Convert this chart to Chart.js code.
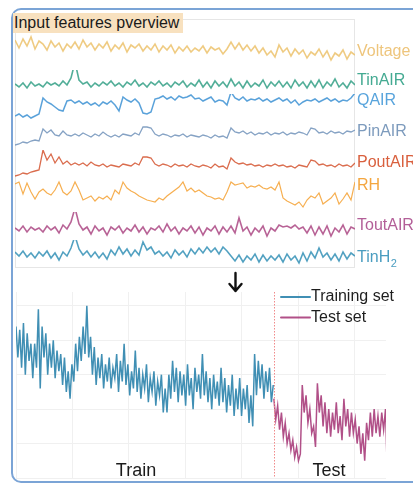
<!DOCTYPE html>
<html>
<head>
<meta charset="utf-8">
<script src="https://cdn.jsdelivr.net/npm/chart.js@4/dist/chart.umd.min.js"></script>
<style>
  html, body { margin: 0; padding: 0; background: #fff; }
  #wrap { position: relative; width: 413px; height: 485px; overflow: hidden; font-family: "Liberation Sans", Arial, sans-serif; }
  #frame { position: absolute; left: 11px; top: 8px; width: 430px; height: 475px; border: 2px solid #7ba4d6; border-radius: 10px; box-sizing: border-box; }
  #topChart { position: absolute; left: 0; top: 0; }
  #bottomChart { position: absolute; left: 0; top: 268px; }
  #title { position: absolute; left: 13px; top: 13px; height: 20px; line-height: 20px; padding: 0 4px 0 1px; background: #f8e1bf; font-size: 16px; color: #1a1a1a; white-space: nowrap; }
</style>
</head>
<body>
<div id="wrap">
  <div id="frame"></div>
  <canvas id="topChart" width="413" height="270"></canvas>
  <canvas id="bottomChart" width="413" height="217"></canvas>
  <div id="title">Input features pverview</div>
</div>
<script>
// ---- input features (relative units, each feature on its own band) ----
const featureNames = ['Voltage', 'TinAIR', 'QAIR', 'PinAIR', 'PoutAIR', 'RH', 'ToutAIR', 'TinH'];

const voltage = [30,22,31,24,33,21,29,
  26,20,29,23,27,19,26,22,28,
  21,30,23,27,20,26,22,28,19,25,
  21,27,18,25,22,26,19,24,20,26,
  18,24,20,25,17,23,19,24,18,22,
  19,24,17,23,20,22,16,21,
  28,21,27,20,25,19,24,17,22,15,19,13,
  25,18,22,14,21,16,20,12,18,15,
  21,13,19,10,17,14,20,11,18,15];

const tinAir = [10,7,11,6,12,8,10,
  7,12,9,11,8,13,9,16,32,
  14,10,12,7,11,8,12,9,13,8,
  11,7,12,9,14,8,11,7,12,9,
  13,8,11,7,12,9,13,7,11,8,
  14,7,12,6,13,8,12,7,
  15,8,12,6,13,7,11,8,14,6,12,8,
  13,7,12,6,14,8,12,6,13,7,
  14,6,12,8,15,7,11,6,13,9];

const qAir = [6,8,5,7,4,6,8,
  24,20,18,15,12,11,21,22,19,
  21,18,20,17,19,16,20,18,21,17,
  11,25,22,20,23,19,9,8,10,23,
  24,26,23,25,22,26,24,25,27,23,
  24,21,23,25,20,22,21,17,
  30,24,22,25,21,23,22,24,21,23,20,22,
  24,21,23,19,22,17,20,22,21,23,
  20,22,24,21,23,20,22,21,24,29];

const pinAir = [5,6,8,7,9,10,9,
  21,17,20,15,14,19,15,14,16,
  14,17,15,13,16,14,18,15,13,15,
  13,16,15,14,17,15,23,23,22,16,
  14,16,15,13,15,14,16,13,15,14,
  13,15,14,12,15,13,14,12,
  22,18,17,19,16,18,15,17,16,18,15,17,
  16,18,15,17,16,18,17,15,22,21,
  17,18,16,19,17,18,16,19,18,20];

const poutAir = [2,3,5,4,6,7,8,
  28,18,24,15,21,14,17,13,15,
  13,15,12,16,13,12,14,11,13,12,
  11,14,13,12,15,13,21,21,20,14,
  12,14,13,11,14,12,13,11,14,12,
  11,13,12,10,14,11,12,9,
  20,16,14,15,13,14,12,13,11,13,12,14,
  12,13,11,12,10,13,12,11,18,17,
  13,14,12,13,11,14,12,13,11,15];

const rh = [28,30,18,29,20,13,20,
  23,19,17,22,30,20,17,21,30,
  22,12,14,16,11,15,13,16,12,22,
  18,30,24,21,19,16,14,12,11,10,
  14,12,16,19,22,25,30,21,24,20,
  22,19,16,15,13,14,12,20,
  30,27,28,29,24,26,25,27,24,23,25,22,
  30,14,11,9,7,10,5,12,16,14,
  19,8,11,14,19,8,13,19,12,30];

const toutAir = [12,9,14,8,13,10,12,
  8,14,10,13,7,15,11,18,32,
  16,10,13,6,14,9,12,5,13,10,
  14,7,12,9,15,8,13,6,12,10,
  14,8,16,9,13,6,12,9,14,7,
  13,5,12,9,14,6,13,8,
  14,7,22,9,13,5,12,8,14,4,12,9,
  15,13,14,12,15,11,13,7,14,5,
  13,6,14,4,12,8,15,6,13,11];

const tinH2 = [16,12,17,11,15,10,16,
  12,17,10,15,8,16,12,20,32,
  19,13,17,11,16,10,15,9,18,13,
  21,14,19,12,18,13,26,18,21,14,
  17,12,16,10,18,13,17,11,19,14,
  20,15,21,16,20,14,21,17,
  12,7,13,6,12,8,14,6,13,7,12,8,
  13,6,14,8,12,5,15,7,16,10,
  20,11,15,8,14,7,16,9,15,12];

const featureValues = [voltage, tinAir, qAir, pinAir, poutAir, rh, toutAir, tinH2];

// ---- target series: training and test split ----
const trainValues = [4.4,3.5,4.3,3.2,4.5,3.0,4.2,3.4,3.9,2.9,
  3.9,3.2,4.9,2.6,4.4,3.5,4.2,3.0,3.9,3.2,
  4.0,2.9,3.7,3.1,3.6,2.7,3.5,2.5,3.1,2.3,
  3.3,2.8,3.9,3.1,4.1,3.4,4.4,3.6,5.0,3.5,
  4.1,3.0,3.8,2.7,3.5,2.9,3.6,2.6,3.3,2.8,
  3.5,2.6,3.2,2.9,3.6,2.5,3.4,2.8,3.9,2.7,
  3.3,2.4,3.1,2.6,3.7,2.5,3.2,2.3,3.0,2.6,
  3.3,2.2,2.9,2.5,3.1,2.1,2.8,2.4,3.0,1.9,
  2.6,1.9,3.0,2.3,3.4,2.5,3.2,2.2,3.1,2.4,
  3.0,2.1,3.3,2.4,2.9,2.0,3.2,2.5,3.0,2.3,
  3.6,2.4,3.1,2.2,2.9,2.0,3.0,2.3,2.8,2.1,
  3.2,2.2,2.9,1.9,2.7,2.1,3.0,1.8,2.6,2.0,
  2.9,1.8,2.6,2.0,2.7,1.6,2.4,1.5,3.6,2.4,
  3.4,2.6,3.3,2.3,3.1,2.5,3.2,2.2,2.7];

const testValues = [2.3,1.7,2.1,1.4,1.9,1.2,1.6,1.0,1.3,0.8,1.1,0.6,0.9,0.5,0.7,
  2.7,1.9,2.4,1.6,2.0,1.3,1.5,0.9,
  2.75,1.9,2.4,1.5,2.2,1.3,2.0,1.2,1.9,1.4,2.2,1.3,1.8,1.1,2.3,1.5,2.0,1.2,1.9,1.3,
  1.7,1.0,1.5,0.7,1.3,0.5,1.6,1.1,1.9,1.2,2.0,1.3,1.8,1.2,1.9,1.4,2.0,0.05];

const trainStep = 6.6;     // samples between stored training points
const testStart = 913;     // first sample of the test period
const testStep = 6.7;
const sampleMax = 1310;
const phaseNames = ['Train', 'Test'];
const phaseCentres = [425, 1108];

// ---- styling ----
const FONT = '"Liberation Sans", Arial, sans-serif';
const featureStyle = [
  { line: 'rgba(236,194,108,0.85)', text: '#eec57c', band: 51, labelDy: -3, width: 1.6 },
  { line: 'rgba(52,160,134,0.85)',  text: '#44aa92', band: 24, labelDy: -4, width: 1.6 },
  { line: 'rgba(72,152,214,0.9)',   text: '#58a4dc', band: 28, labelDy: 8,  width: 1.5 },
  { line: 'rgba(120,152,190,0.9)',  text: '#7d9bbd', band: 28, labelDy: 2,  width: 1.3 },
  { line: 'rgba(214,92,58,0.9)',    text: '#d9603e', band: 28, labelDy: 0,  width: 1.3 },
  { line: 'rgba(245,166,62,0.9)',   text: '#f4a63f', band: 34, labelDy: 4,  width: 1.2 },
  { line: 'rgba(172,72,132,0.85)',  text: '#b35f98', band: 28, labelDy: -3, width: 1.6 },
  { line: 'rgba(52,144,182,0.85)',  text: '#4a9dc0', band: 28, labelDy: 2,  width: 1.6, sub: '2' }
];

// ---- top chart: stacked feature bands ----
// Stacked left axes are laid out from the last-registered one downward,
// so the bands are registered bottom-up to keep Voltage on top.
const topScales = {
  x: { type: 'linear', display: false, min: 0, max: voltage.length - 1 }
};
for (let i = featureNames.length - 1; i >= 0; i--) {
  topScales['f' + i] = {
    type: 'linear', display: false, stack: 'features', stackWeight: featureStyle[i].band,
    min: 0, max: featureStyle[i].band
  };
}

const featureLabels = {
  id: 'featureLabels',
  beforeDatasetsDraw(chart) {
    const { ctx, chartArea: a } = chart;
    ctx.save();
    ctx.strokeStyle = '#e6e6e6';
    ctx.lineWidth = 1;
    ctx.strokeRect(a.left + 0.5, a.top + 0.5, a.width - 1, a.height - 1);
    ctx.restore();
  },
  afterDatasetsDraw(chart) {
    const { ctx, chartArea: a } = chart;
    ctx.save();
    ctx.textBaseline = 'middle';
    chart.data.datasets.forEach((ds, i) => {
      const st = featureStyle[i];
      const scale = chart.scales[ds.yAxisID];
      const y = scale.getPixelForValue(ds.data[ds.data.length - 1]) + st.labelDy;
      const x = a.right + 2;
      ctx.font = '16px ' + FONT;
      ctx.fillStyle = st.text;
      ctx.fillText(ds.label, x, y);
      if (st.sub) {
        const w = ctx.measureText(ds.label).width;
        ctx.font = '11px ' + FONT;
        ctx.fillText(st.sub, x + w + 0.5, y + 6);
      }
    });
    ctx.restore();
  }
};

new Chart(document.getElementById('topChart'), {
  type: 'line',
  data: {
    labels: voltage.map((_, i) => i),
    datasets: featureNames.map((name, i) => ({
      label: name,
      data: featureValues[i],
      yAxisID: 'f' + i,
      borderColor: featureStyle[i].line,
      borderWidth: featureStyle[i].width,
      pointRadius: 0,
      tension: 0
    }))
  },
  options: {
    responsive: false,
    animation: false,
    events: [],
    layout: { padding: { left: 15, top: 19, right: 58, bottom: 2 } },
    scales: topScales,
    plugins: { legend: { display: false }, tooltip: { enabled: false } }
  },
  plugins: [featureLabels]
});

// ---- bottom chart: train / test split ----
const trainColor = 'rgba(38,128,170,0.88)';
const testColor = 'rgba(166,56,120,0.88)';

const splitDecor = {
  id: 'splitDecor',
  afterDatasetsDraw(chart) {
    const { ctx, chartArea: a, scales: { x } } = chart;
    ctx.save();
    // split marker
    const sx = Math.round(x.getPixelForValue(testStart)) + 0.5;
    ctx.strokeStyle = '#f08a8a';
    ctx.lineWidth = 1;
    ctx.setLineDash([1.5, 1.5]);
    ctx.beginPath();
    ctx.moveTo(sx, a.top);
    ctx.lineTo(sx, a.bottom);
    ctx.stroke();
    ctx.setLineDash([]);

    // arrow from the feature panel down to the target series
    const ax = 235.5;
    ctx.strokeStyle = '#111';
    ctx.lineWidth = 2.4;
    ctx.lineCap = 'round';
    ctx.lineJoin = 'round';
    ctx.beginPath();
    ctx.moveTo(ax, 5);
    ctx.lineTo(ax, 23);
    ctx.moveTo(ax - 6, 16);
    ctx.lineTo(ax, 23);
    ctx.lineTo(ax + 6, 16);
    ctx.stroke();

    // legend
    ctx.font = '16px ' + FONT;
    ctx.textBaseline = 'middle';
    chart.data.datasets.forEach((ds, i) => {
      const y = a.top + 5 + i * 20.5;
      ctx.strokeStyle = ds.borderColor;
      ctx.lineWidth = 2;
      ctx.beginPath();
      ctx.moveTo(281, y);
      ctx.lineTo(310, y);
      ctx.stroke();
      ctx.fillStyle = '#1e1e1e';
      ctx.fillText(ds.label, 311, y);
    });

    // phase names
    ctx.font = '18px ' + FONT;
    ctx.textAlign = 'center';
    ctx.fillStyle = '#1a1a1a';
    phaseNames.forEach((t, i) => {
      ctx.fillText(t, x.getPixelForValue(phaseCentres[i]), a.bottom - 7);
    });
    ctx.restore();
  }
};

new Chart(document.getElementById('bottomChart'), {
  type: 'line',
  data: {
    datasets: [
      {
        label: 'Training set',
        data: trainValues.map((v, i) => ({ x: i * trainStep, y: v })),
        borderColor: trainColor,
        borderWidth: 1.5,
        pointRadius: 0,
        tension: 0
      },
      {
        label: 'Test set',
        data: testValues.map((v, i) => ({ x: testStart + i * testStep, y: v })),
        borderColor: testColor,
        borderWidth: 1.5,
        pointRadius: 0,
        tension: 0
      }
    ]
  },
  options: {
    responsive: false,
    animation: false,
    events: [],
    layout: { padding: { left: 16, top: 24, right: 27, bottom: 7 } },
    scales: {
      x: {
        type: 'linear', min: 0, max: sampleMax,
        ticks: { display: false, stepSize: 200, includeBounds: false },
        grid: { color: '#f0f0f0', drawTicks: false },
        border: { display: false }
      },
      y: {
        min: 0, max: 5.4,
        ticks: { display: false, stepSize: 1, includeBounds: false },
        grid: { color: '#f0f0f0', drawTicks: false },
        border: { display: false }
      }
    },
    plugins: { legend: { display: false }, tooltip: { enabled: false } }
  },
  plugins: [splitDecor]
});
</script>
</body>
</html>
